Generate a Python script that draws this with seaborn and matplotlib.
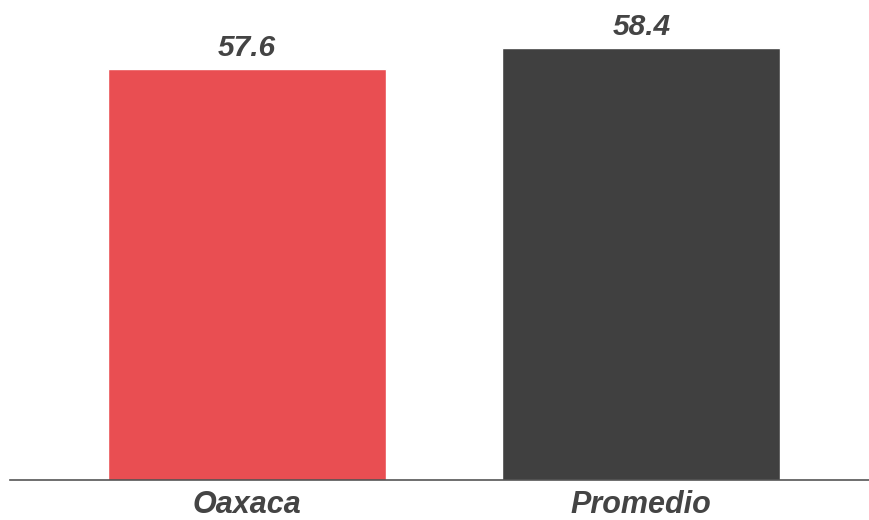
import pandas as pd
import matplotlib
matplotlib.use('Agg')
import matplotlib.pyplot as plt
import seaborn as sns

# --- Data ---
categories = ['Oaxaca', 'Promedio']
values = [57.6, 58.4]
bar_colors = ['#E94E52', '#404040']

df = pd.DataFrame({'region': categories, 'valor': values})

sns.set_style('white')
plt.rcParams['font.family'] = ['Liberation Sans', 'DejaVu Sans']

fig = plt.figure(figsize=(8.69, 5.2), dpi=100)
ax = fig.add_axes([10 / 869, 40 / 520, 859 / 869, 480 / 520])

sns.barplot(data=df, x='region', y='valor', hue='region', palette=bar_colors,
            width=0.705, legend=False, ax=ax, saturation=1)

ax.set_xlim(-0.6, 1.577)
ax.set_ylim(41.47, 60.3)

# value labels
for i, v in enumerate(values):
    ax.annotate(f'{v:.1f}', (i, v), xytext=(0, 5), textcoords='offset points',
                ha='center', va='bottom', fontsize=21.5, fontweight='bold',
                fontstyle='italic', color='#444444')

ax.set_xlabel('')
ax.set_ylabel('')
ax.set_yticks([])
ax.tick_params(axis='x', length=0, pad=7)
for lbl in ax.get_xticklabels():
    lbl.set_fontsize(22)
    lbl.set_fontweight('bold')
    lbl.set_fontstyle('italic')
    lbl.set_color('#444444')

for side in ['top', 'left', 'right']:
    ax.spines[side].set_visible(False)
ax.spines['bottom'].set_color('#555555')
ax.spines['bottom'].set_linewidth(1.2)

fig.savefig('out.png', dpi=100)
